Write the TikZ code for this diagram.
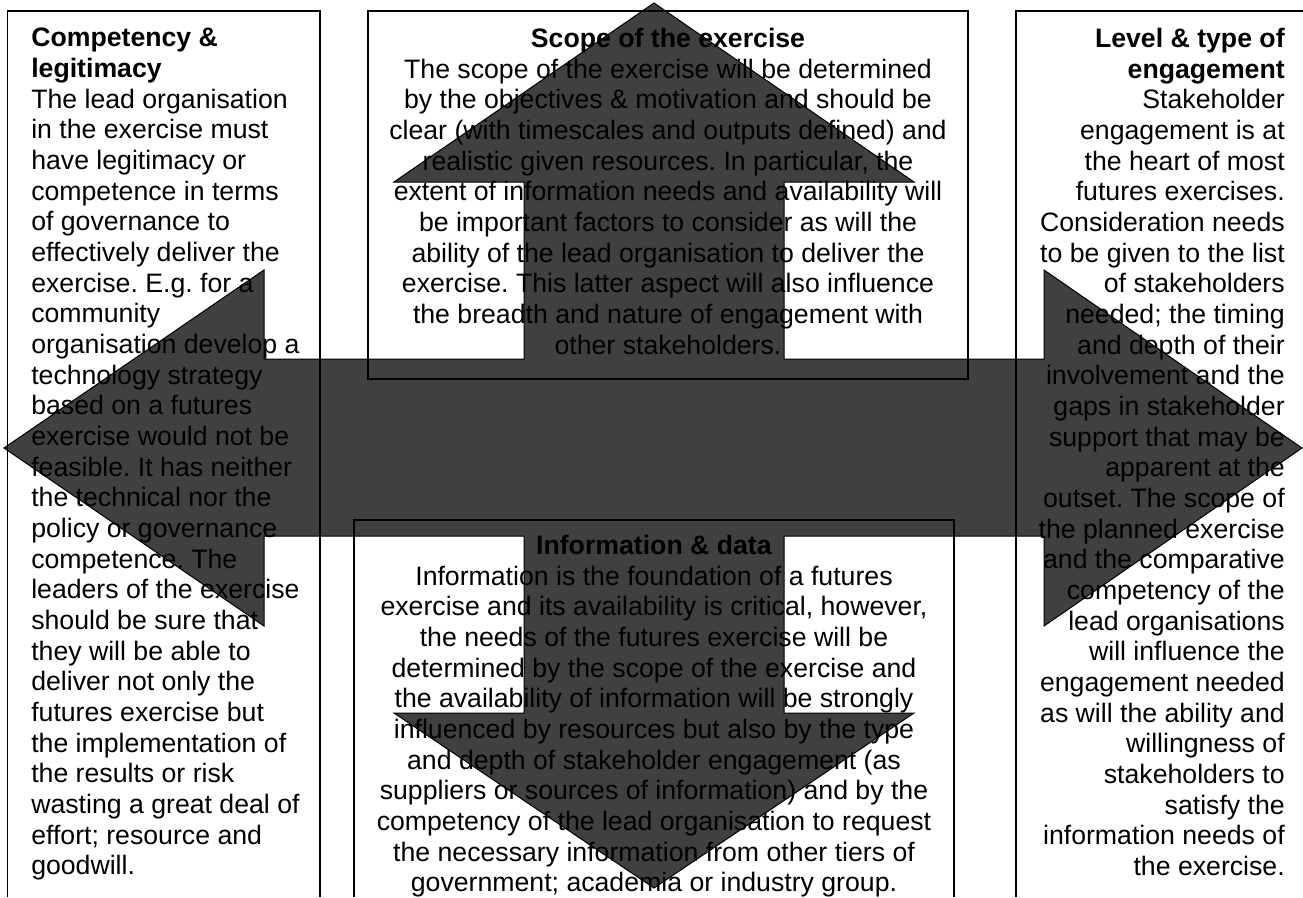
\documentclass[tikz,border=0pt]{standalone}
\usepackage{fontspec}
\setmainfont{Liberation Sans}
\definecolor{arrowgrey}{RGB}{64,64,64}
\frenchspacing

\begin{document}
\begin{tikzpicture}[x=0.75pt,y=-0.75pt]
    \tikzstyle{bigarrow}=[fill=arrowgrey, draw=black, line width=0.75pt, line join=miter]
    \tikzstyle{cell}=[draw=black, line width=1.1pt]
    \tikzstyle{celltext}=[inner sep=0pt, font=\fontsize{20}{23}\selectfont]

    \useasboundingbox (0,0) rectangle (1303,897);

    % Draw the four-way arrow behind everything
    \draw[bigarrow] (4,448) -- (264,270) -- (264,359) -- (524,359) -- (524,182)
        -- (394,182) -- (654,3) -- (914,182) -- (784,182) -- (784,359)
        -- (1044,359) -- (1044,270) -- (1302,448) -- (1044,626) -- (1044,536)
        -- (784,536) -- (784,713) -- (914,713) -- (654,888) -- (394,713)
        -- (524,713) -- (524,536) -- (264,536) -- (264,626) -- cycle;

    % Draw the table cells (open at the bottom of the page)
    \draw[cell] (7.5,897) -- (7.5,11) -- (320,11) -- (320,897);
    \draw[cell] (368,11) rectangle (968,379);
    \draw[cell] (1016,897) -- (1016,11) -- (1303,11);
    \draw[cell] (354,897) -- (354,520) -- (954,520) -- (954,897);

    % Fill in the cell texts
    \node[celltext, anchor=north west, align=left] (competency) at (31,28) {%
        \textbf{Competency \&}\\ \textbf{legitimacy}\\
        The lead organisation\\ in the exercise must\\ have legitimacy or\\
        competence in terms\\ of governance to\\ effectively deliver the\\
        exercise. E.g. for a\\ community\\ organisation develop a\\
        technology strategy\\ based on a futures\\ exercise would not be\\
        feasible. It has neither\\ the technical nor the\\ policy or governance\\
        competence. The\\ leaders of the exercise\\ should be sure that\\
        they will be able to\\ deliver not only the\\ futures exercise but\\
        the implementation of\\ the results or risk\\ wasting a great deal of\\
        effort; resource and\\ goodwill.};

    \node[celltext, anchor=north, align=center] (scope) at (668,28) {%
        \textbf{Scope of the exercise}\\
        The scope of the exercise will be determined\\
        by the objectives \& motivation and should be\\
        clear (with timescales and outputs defined) and\\
        realistic given resources. In particular, the\\
        extent of information needs and availability will\\
        be important factors to consider as will the\\
        ability of the lead organisation to deliver the\\
        exercise. This latter aspect will also influence\\
        the breadth and nature of engagement with\\
        other stakeholders.};

    \node[celltext, anchor=north east, align=right] (level) at (1285,28) {%
        \textbf{Level \& type of}\\ \textbf{engagement}\\
        Stakeholder\\ engagement is at\\ the heart of most\\ futures exercises.\\
        Consideration needs\\ to be given to the list\\ of stakeholders\\
        needed; the timing\\ and depth of their\\ involvement and the\\
        gaps in stakeholder\\ support that may be\\ apparent at the\\
        outset. The scope of\\ the planned exercise\\ and the comparative\\
        competency of the\\ lead organisations\\ will influence the\\
        engagement needed\\ as will the ability and\\ willingness of\\
        stakeholders to\\ satisfy the\\ information needs of\\ the exercise.};

    \node[celltext, anchor=north, align=center] (info) at (654,535) {%
        \textbf{Information \& data}\\
        Information is the foundation of a futures\\
        exercise and its availability is critical, however,\\
        the needs of the futures exercise will be\\
        determined by the scope of the exercise and\\
        the availability of information will be strongly\\
        influenced by resources but also by the type\\
        and depth of stakeholder engagement (as\\
        suppliers or sources of information) and by the\\
        competency of the lead organisation to request\\
        the necessary information from other tiers of\\
        government; academia or industry group.};
\end{tikzpicture}
\end{document}
